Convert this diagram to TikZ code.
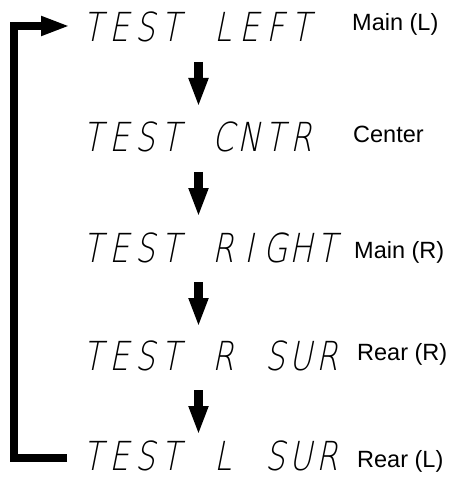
\documentclass[tikz,border=0pt]{standalone}
\usepackage{fontspec}
\setmainfont{Liberation Sans}
\newfontfamily\segface{DejaVu Sans ExtraLight}[FakeSlant=0.2, FakeStretch=0.78]
\usetikzlibrary{arrows.meta}
\newcommand\segcells[1]{\segcell#1\relax}
\newcommand\segcell[1]{\ifx#1\relax\else\makebox[26pt]{#1}\expandafter\segcell\fi}
\begin{document}
\begin{tikzpicture}[x=1pt,y=-1pt,
  seg/.style={anchor=base west, inner sep=0pt, font=\segface\fontsize{40}{40}\selectfont},
  lab/.style={anchor=base west, inner sep=0pt, font=\fontsize{23.5}{23.5}\selectfont},
  darrow/.style={line width=8.5pt, -{Triangle[length=29pt,width=18pt]}},
  loopline/.style={line width=7.5pt, -{Triangle[length=29pt,width=18pt]}}]
\useasboundingbox (0,0) rectangle (448,478);
\node[seg] (r1) at (80,42)  {\segcells{TEST~LEFT}};
\node[lab] (l1) at (352,31) {Main (L)};
\node[seg] (r2) at (80,152) {\segcells{TEST~CNTR}};
\node[lab] (l2) at (353,143) {Center};
\node[seg] (r3) at (80,262) {\segcells{TEST~RIGHT}};
\node[lab] (l3) at (354,258) {Main (R)};
\node[seg] (r4) at (80,370) {\segcells{TEST~R~SUR}};
\node[lab] (l4) at (357,360) {Rear (R)};
\node[seg] (r5) at (80,470) {\segcells{TEST~L~SUR}};
\node[lab] (l5) at (357,467) {Rear (L)};
\coordinate (ax) at (198.5,0);
\foreach \a in {r1,r2,r3,r4}
  \draw[darrow] ([yshift=-20pt]ax |- \a.base) -- ([yshift=-65pt]ax |- \a.base);
\draw[loopline] ([xshift=-13pt,yshift=12pt]r5.base west) -- ++(-53,0)
  |- ([xshift=-10pt,yshift=16pt]r1.base west);
\end{tikzpicture}
\end{document}
